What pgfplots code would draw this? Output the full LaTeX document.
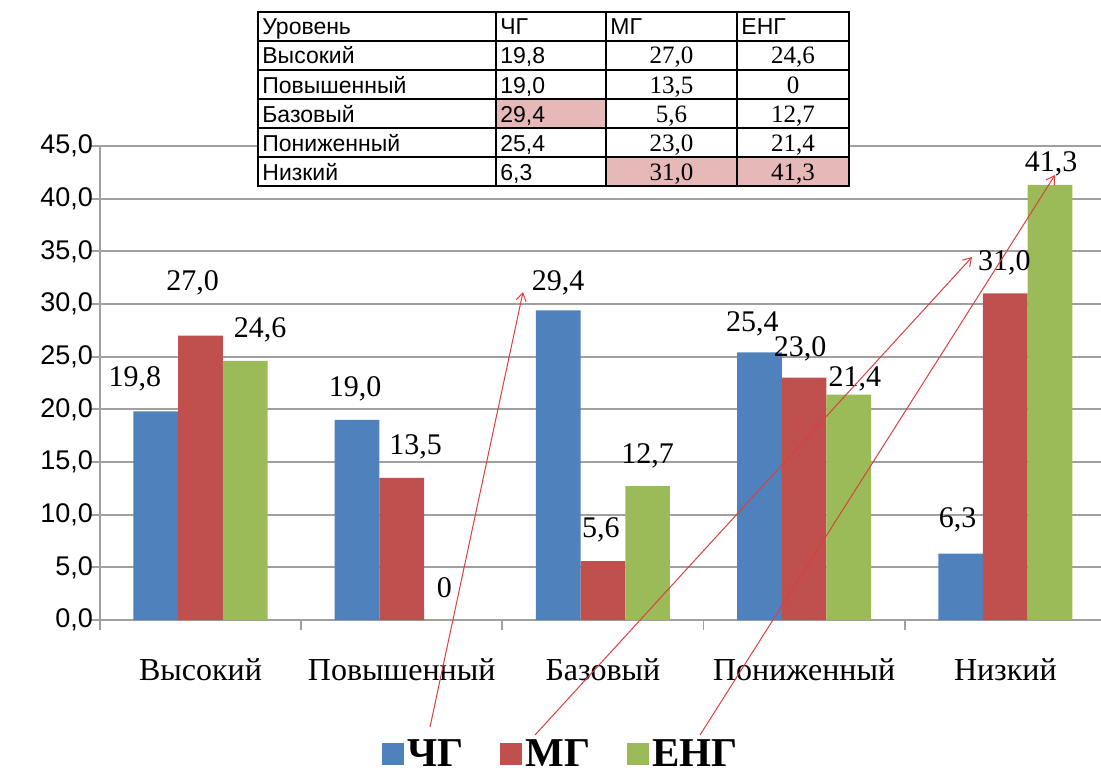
\documentclass[border=0pt]{standalone}
\usepackage{fontspec}
\setmainfont{Liberation Serif}
\setsansfont{Liberation Sans}
\usepackage{pgfplots}
\usepackage{pgfplotstable}
\pgfplotsset{compat=1.18}
\usetikzlibrary{arrows.meta}

\definecolor{cg}{HTML}{4F81BD}
\definecolor{mg}{HTML}{C0504D}
\definecolor{eng}{HTML}{9BBB59}
\definecolor{cellpink}{HTML}{E6B9B8}
\definecolor{gridgray}{HTML}{A0A0A0}
\definecolor{arrowred}{HTML}{D9403F}

% x = category, y = value, lbl = label text, dx/dy = label offset in px
\pgfplotstableread{
x y lbl dx dy
0 19.8 19,8 -21 35
1 19.0 19,0 -2 33
2 29.4 29,4 0 30
3 25.4 25,4 -7 31
4 6.3 6,3 -3 36
}\dataCG
\pgfplotstableread{
x y lbl dx dy
0 27.0 27,0 -8 55
1 13.5 13,5 14 33
2 5.6 5,6 -2 34
3 23.0 23,0 -4 31
4 31.0 31,0 -1 33
}\dataMG
\pgfplotstableread{
x y lbl dx dy
0 24.6 24,6 15 33
1 0 0 -2 33
2 12.7 12,7 0 33
3 21.4 21,4 6 18
4 41.3 41,3 1 23
}\dataENG

\pgfplotsset{sq/.style={legend image code/.code={\fill[##1] (-3pt,-5.5pt) rectangle (8pt,5.5pt);}}}

\begin{document}
\begin{tikzpicture}
\useasboundingbox (0,0) rectangle (550.5pt,386.5pt);
\begin{axis}[
  at={(49.95pt,76.5pt)}, anchor=south west,
  scale only axis, width=501pt, height=237pt,
  xmin=-0.5, xmax=4.48, ymin=0, ymax=45,
  clip=false,
  ybar=0pt, bar width=22.35pt,
  axis x line*=bottom, axis y line*=left,
  axis line style={-, gridgray, line width=0.9pt},
  ymajorgrids, major grid style={gridgray, line width=0.9pt},
  tick align=outside, major tick length=5pt,
  tick style={gridgray, line width=0.9pt},
  xtick={-0.5,0.5,1.5,2.5,3.5}, xticklabels={},
  extra x ticks={0,1,2,3,4},
  extra x tick labels={Высокий,Повышенный,Базовый,Пониженный,Низкий},
  extra x tick style={major tick length=0pt,
    xticklabel style={font=\fontsize{16}{19}\selectfont, anchor=base, yshift=-30pt}},
  ytick={0,5,...,45},
  yticklabel style={font=\sffamily\fontsize{13.5}{16}\selectfont, xshift=5pt,
    /pgf/number format/.cd, fixed, fixed zerofill, precision=1, use comma,
    assume math mode=true},
  nodes near coords, point meta=explicit symbolic,
  visualization depends on={\thisrow{dx} \as \dx},
  visualization depends on={\thisrow{dy} \as \dy},
  every node near coord/.append style={font=\fontsize{15}{18}\selectfont,
    anchor=base, xshift={\dx*0.5pt}, yshift={(\dy-10)*0.5pt}, text=black},
  legend style={at={(0.461,-0.283)}, anchor=center, draw=none, fill=none,
    legend columns=3, font=\bfseries\fontsize{20.5}{24}\selectfont,
    /tikz/every even column/.append style={column sep=16pt}},
]
\addplot[fill=cg, draw=none, sq] table[x=x, y=y, meta=lbl] {\dataCG};
\addplot[fill=mg, draw=none, sq] table[x=x, y=y, meta=lbl] {\dataMG};
\addplot[fill=eng, draw=none, sq] table[x=x, y=y, meta=lbl] {\dataENG};
\legend{ЧГ,МГ,ЕНГ}
\end{axis}

\begin{scope}[x=0.5pt, y=-0.5pt, shift={(0pt,386.5pt)}]
  % table
  \fill[white] (258,12) rectangle (849,186);
  \fill[cellpink] (496,99) rectangle (606,128);
  \fill[cellpink] (606,157) rectangle (849,186);
  \draw[line width=0.75pt] (258,12) rectangle (849,186);
  \foreach \yy in {41,70,99,128,157} \draw[line width=0.75pt] (258,\yy) -- (849,\yy);
  \foreach \xx in {496,606,737} \draw[line width=0.75pt] (\xx,12) -- (\xx,186);
  \begin{scope}[every node/.style={inner sep=0pt, font=\sffamily\fontsize{11.5}{13}\selectfont}]
    \node[anchor=base west] at (262,35) {Уровень};
    \node[anchor=base west] at (500,35) {ЧГ};
    \node[anchor=base west] at (610,35) {МГ};
    \node[anchor=base west] at (741,35) {ЕНГ};
    \node[anchor=base west] at (262,64) {Высокий};
    \node[anchor=base west] at (262,93) {Повышенный};
    \node[anchor=base west] at (262,122) {Базовый};
    \node[anchor=base west] at (262,151) {Пониженный};
    \node[anchor=base west] at (262,180) {Низкий};
    \node[anchor=base west] at (500,64) {19,8};
    \node[anchor=base west] at (500,93) {19,0};
    \node[anchor=base west] at (500,122) {29,4};
    \node[anchor=base west] at (500,151) {25,4};
    \node[anchor=base west] at (500,180) {6,3};
  \end{scope}
  \begin{scope}[every node/.style={inner sep=0pt, anchor=base, font=\fontsize{12.5}{14}\selectfont}]
    \node at (671.5,64) {27,0};
    \node at (671.5,93) {13,5};
    \node at (671.5,122) {5,6};
    \node at (671.5,151) {23,0};
    \node at (671.5,180) {31,0};
    \node at (793,64) {24,6};
    \node at (793,93) {0};
    \node at (793,122) {12,7};
    \node at (793,151) {21,4};
    \node at (793,180) {41,3};
  \end{scope}
  % arrows from the legend to the highest values
  \begin{scope}[arrowred, line width=0.5pt, -{Straight Barb[length=4pt,width=5pt]}]
    \draw (430,727) -- (523,292);
    \draw (535,735) -- (972,257);
    \draw (700,735) -- (1055,175);
  \end{scope}
\end{scope}
\end{tikzpicture}
\end{document}
